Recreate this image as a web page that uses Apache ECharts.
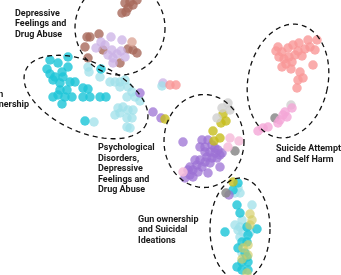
<!DOCTYPE html>
<html>
<head>
<meta charset="utf-8">
<script src="https://cdn.jsdelivr.net/npm/echarts@6/dist/echarts.min.js"></script>
<style>html,body{margin:0;padding:0;background:#fff;}#c{width:341px;height:275px;}</style>
</head>
<body>
<div id="c"></div>
<script>
// Point groups: [x, y] in chart units (y grows downward)
const brownPts = [[125,3],[133,5],[137,0],[128,8],[122,13],[126,12],[130,2],[87,37],[90,37],[99,34],[85,47],[103,50],[88,58],[120,63],[128,49],[133,50],[137,53]];
const rosePts = [[132,42]];
const lilacPts = [[111,37],[122,40],[101,42],[105,45],[96,48],[112,50],[108,55],[113,58],[113,63],[121,51],[125,57],[117,54],[163,83]];
const cyanPts = [[50,60],[58,63],[68,57],[68,67],[47,69],[50,74],[55,77],[62,72],[63,77],[53,80],[60,83],[70,82],[75,82],[60,90],[67,90],[83,88],[88,89],[53,97],[58,95],[65,97],[72,97],[83,97],[90,97],[100,97],[106,97],[62,104],[85,121],[101,69],
  [238,183],[233,190],[237,205],[240,213],[247,227],[225,232],[257,229],[248,235],[242,242],[247,242],[238,248],[245,253],[247,257],[242,262],[248,262],[237,267],[242,270],[248,270]];
const lightCyanPts = [[88,67],[89,72],[100,77],[110,82],[115,82],[120,82],[125,80],[120,87],[128,87],[132,92],[127,97],[135,97],[140,101],[118,108],[123,107],[115,115],[120,113],[128,110],[133,110],[127,118],[132,118],[127,127],[130,128],[94,122],[162,86],
  [238,188],[235,193],[240,193],[252,205],[242,220],[235,225],[240,227],[238,230],[243,232],[250,232],[240,237],[242,253]];
const purplePts = [[140,93],[153,112],[161,118],[229,195],
  [183,142],[202,140],[208,140],[205,147],[200,147],[212,145],[215,148],[218,150],[205,152],[210,152],[215,153],[220,155],[222,153],[207,157],[212,158],[217,158],[195,160],[200,160],[205,162],[210,163],[197,165],[202,167],[190,167],[188,170],[193,170],[198,172],[208,173],[220,167],[190,175],[185,178],[193,177]];
const olivePts = [[165,119],[223,114],[221,123],[226,121],[213,131],[214,141],[220,138],[233,182]];
const paleOlivePts = [[250,214],[252,220],[250,225],[248,245],[243,248],[248,255],[242,259],[247,273]];
const lightGrayPts = [[228,103],[222,108],[230,110],[217,118],[291,105]];
const grayPts = [[235,151],[275,118],[226,193]];
const palePinkPts = [[230,138],[239,141],[228,147],[183,172]];
const pinkPts = [[292,108],[285,112],[283,115],[287,117],[280,120],[278,123],[268,127],[263,128],[258,131]];
const salmonPts = [[170,85],[176,85],
  [278,47],[276,51],[282,52],[288,48],[293,45],[299,43],[308,40],[317,40],[310,47],[315,50],[305,49],[298,51],[295,55],[302,56],[279,57],[284,59],[289,57],[286,64],[292,62],[282,67],[291,69],[300,72],[313,65],[298,80],[303,78],[297,88]];

// Cluster outlines: [cx, cy, rx, ry, rotationDeg]
const ellipses = [[120,28,45,47,0],[86,97,66,35,24],[204,141,40,46.5,0],[288,81,40,57.5,11.5],[240,229,30,51,0]];

// Cluster labels
const labels = [
  {text:'Depressive\nFeelings and\nDrug Abuse', x:15, y:8},
  {text:'Gun\nownership', x:-13, y:89},
  {text:'Psychological\nDisorders,\nDepressive\nFeelings and\nDrug Abuse', x:98, y:142.5},
  {text:'Gun ownership\nand Suicidal\nIdeations', x:138, y:214},
  {text:'Suicide Attempt\nand Self Harm', x:276, y:143.5}
];

const groups = [
  ['brown', brownPts, '#a7695b', 0.8],
  ['rose', rosePts, '#dca697', 0.8],
  ['lilac', lilacPts, '#cbb1e6', 0.75],
  ['lightCyan', lightCyanPts, '#9fe0ea', 0.75],
  ['cyan', cyanPts, '#1fc6d8', 0.82],
  ['purple', purplePts, '#9c72d4', 0.75],
  ['olive', olivePts, '#c6bd1c', 0.8],
  ['paleOlive', paleOlivePts, '#d2cd62', 0.65],
  ['lightGray', lightGrayPts, '#cfcfcf', 0.8],
  ['gray', grayPts, '#8a8a8a', 0.85],
  ['palePink', palePinkPts, '#f6bddb', 0.85],
  ['pink', pinkPts, '#f4a6d7', 0.8],
  ['salmon', salmonPts, '#f99797', 0.8]
];

const chart = echarts.init(document.getElementById('c'), null, {renderer:'canvas'});
const series = groups.map(g => ({
  name: g[0], type: 'scatter', data: g[1], symbolSize: 9.5,
  itemStyle: {color: g[2], opacity: g[3]}, silent: true, animation: false
}));
series.push({
  type: 'custom', data: ellipses, silent: true, animation: false, clip: false, z: 5,
  renderItem: function (params, api) {
    const c = api.coord([api.value(0), api.value(1)]);
    const rx = api.size([api.value(2), 0])[0];
    const ry = api.size([0, api.value(3)])[1];
    const a = api.value(4) * Math.PI / 180;
    const pts = [];
    for (let i = 0; i < 120; i++) {
      const t = i / 120 * Math.PI * 2;
      const ex = rx * Math.cos(t), ey = ry * Math.sin(t);
      pts.push([c[0] + ex * Math.cos(a) - ey * Math.sin(a), c[1] + ex * Math.sin(a) + ey * Math.cos(a)]);
    }
    return {type: 'polygon', shape: {points: pts}, style: {fill: 'none', stroke: '#111', lineWidth: 1.3, lineDash: [5, 4]}};
  }
});

chart.setOption({
  animation: false,
  grid: {left: 0, right: 0, top: 0, bottom: 0},
  xAxis: {type: 'value', min: 0, max: 341, show: false},
  yAxis: {type: 'value', min: 0, max: 275, inverse: true, show: false},
  graphic: labels.map(l => ({
    type: 'text', x: l.x, y: l.y, z: 10, silent: true,
    style: {text: l.text, font: 'bold 9px Roboto', fill: '#1a1a1a', lineHeight: 10.5, verticalAlign: 'top', align: 'left'}
  })),
  series: series
});
</script>
</body>
</html>
